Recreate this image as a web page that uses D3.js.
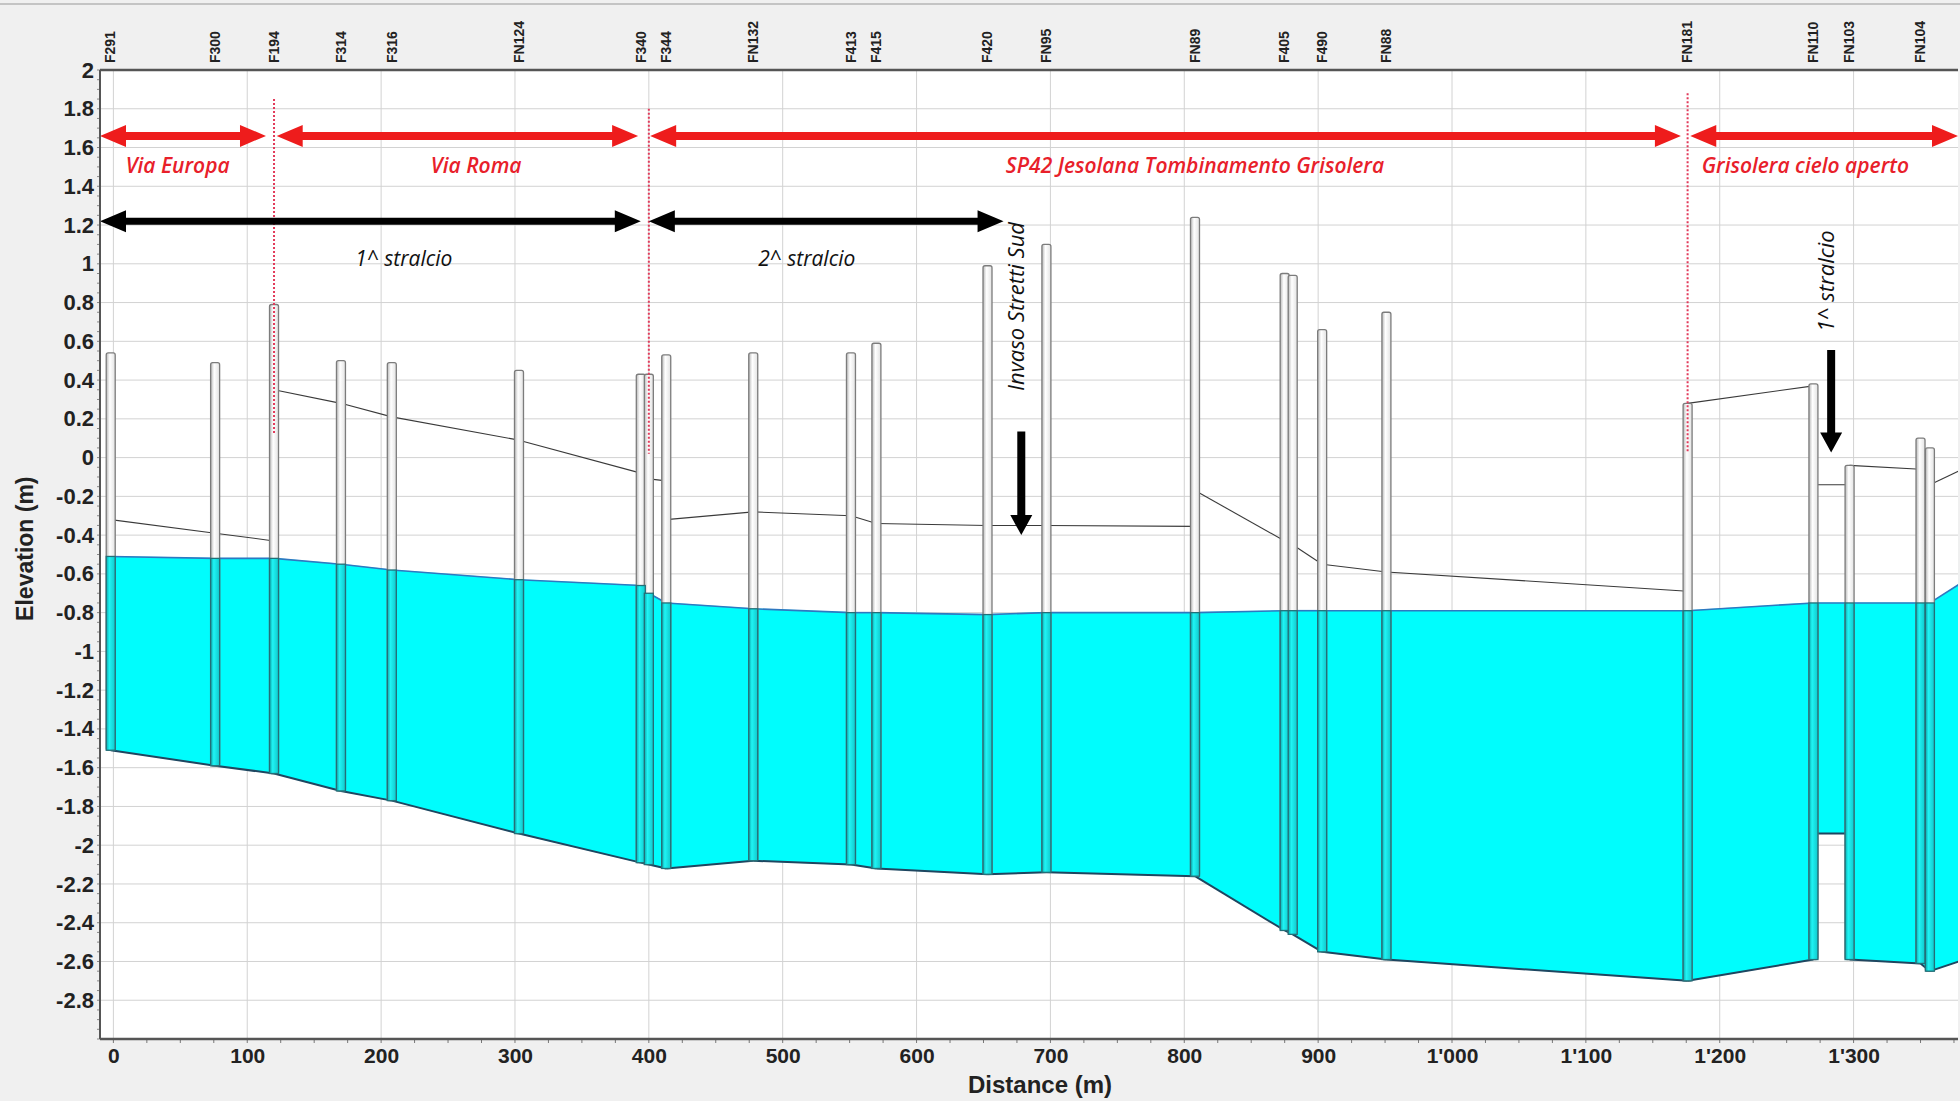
<!DOCTYPE html>
<html>
<head>
<meta charset="utf-8">
<script src="https://cdn.jsdelivr.net/npm/d3@7/dist/d3.min.js"></script>
<style>
  html, body { margin: 0; padding: 0; background: #f0f0f0; }
  svg { display: block; }
</style>
</head>
<body>
<svg id="chart" width="1960" height="1101"></svg>
<script>
// ---- Profile data: manholes along the sewer (distance in m, elevations in m) ----
const nodeNames  = ["F291","F300","F194","F314","F316","FN124","F340","","F344","FN132","F413","F415","F420","FN95","FN89","F405","","F490","FN88","FN181","FN110","FN103","FN104","",""];
const nodeDist   = [-2, 76, 120, 170, 208, 303, 394, 400, 413, 478, 551, 570, 653, 697, 808, 875, 881, 903, 951, 1176, 1270, 1297, 1350, 1357, 1400];
const nodeRim    = [0.54, 0.49, 0.79, 0.50, 0.49, 0.45, 0.43, 0.43, 0.53, 0.54, 0.54, 0.59, 0.99, 1.10, 1.24, 0.95, 0.94, 0.66, 0.75, 0.28, 0.38, -0.04, 0.10, 0.05, 0.20];
const nodeInvert = [-1.51, -1.59, -1.63, -1.72, -1.77, -1.94, -2.09, -2.10, -2.12, -2.08, -2.10, -2.12, -2.15, -2.14, -2.16, -2.44, -2.46, -2.55, -2.59, -2.70, -2.59, -2.59, -2.61, -2.65, -2.55];
const waterLevel = [-0.51, -0.52, -0.52, -0.55, -0.58, -0.63, -0.66, -0.70, -0.75, -0.78, -0.80, -0.80, -0.81, -0.80, -0.80, -0.79, -0.79, -0.79, -0.79, -0.79, -0.75, -0.75, -0.75, -0.75, -0.56];

// ---- Conduits between consecutive manholes (upstream / downstream end) ----
const linkCrownUp  = [-0.32, -0.39, 0.35, 0.28, 0.21, 0.09, -0.08, -0.11, -0.32, -0.28, -0.30, -0.34, -0.35, -0.35, -0.17, -0.43, -0.45, -0.55, -0.59, 0.28, -0.14, -0.04, -0.06, -0.14];
const linkCrownDn  = [-0.39, -0.43, 0.28, 0.21, 0.09, -0.08, -0.11, -0.12, -0.28, -0.30, -0.34, -0.35, -0.35, -0.355, -0.43, -0.45, -0.55, -0.59, -0.69, 0.37, -0.14, -0.06, -0.07, 0.00];
const linkInvertUp = [-1.51, -1.59, -1.63, -1.72, -1.77, -1.94, -2.09, -2.10, -2.12, -2.08, -2.10, -2.12, -2.15, -2.14, -2.16, -2.44, -2.46, -2.55, -2.59, -2.70, -1.94, -2.59, -2.61, -2.65];
const linkInvertDn = [-1.59, -1.63, -1.72, -1.77, -1.94, -2.09, -2.10, -2.12, -2.08, -2.10, -2.12, -2.15, -2.14, -2.16, -2.44, -2.46, -2.55, -2.59, -2.70, -2.59, -1.94, -2.61, -2.65, -2.55];

// ---- Street sections (red) and work phases (black) ----
const sectionNames = ["Via Europa", "Via Roma", "SP42 Jesolana Tombinamento Grisolera", "Grisolera cielo aperto"];
const sectionStart = [-10, 122, 401, 1178];
const sectionEnd   = [114, 392, 1171, 1378];
const sectionLabelAt = [48, 271, 808, 1264];
const sectionBounds = [120, 400, 1176];
const sectionBoundTop = [1.85, 1.80, 1.88];
const sectionBoundBottom = [0.12, 0.02, 0.03];

const phaseNames = ["1^ stralcio", "2^ stralcio"];
const phaseStart = [-10, 400];
const phaseEnd   = [394, 665];
const phaseLabelAt = [217, 518];

// Vertical notes with downward arrows
const noteTexts    = ["Invaso Stretti Sud", "1^ stralcio"];
const noteDist     = [676, 1281];
const noteCenter   = [0.78, 0.91];
const noteArrowTop = [0.135, 0.555];
const noteArrowTip = [-0.40, 0.026];

// ---- Axis ticks ----
const xTicks = [0, 100, 200, 300, 400, 500, 600, 700, 800, 900, 1000, 1100, 1200, 1300];
const xTickLabels = ["0","100","200","300","400","500","600","700","800","900","1'000","1'100","1'200","1'300"];
const yTicks = [2, 1.8, 1.6, 1.4, 1.2, 1, 0.8, 0.6, 0.4, 0.2, 0, -0.2, -0.4, -0.6, -0.8, -1, -1.2, -1.4, -1.6, -1.8, -2, -2.2, -2.4, -2.6, -2.8];
const yTickLabels = ["2","1.8","1.6","1.4","1.2","1","0.8","0.6","0.4","0.2","0","-0.2","-0.4","-0.6","-0.8","-1","-1.2","-1.4","-1.6","-1.8","-2","-2.2","-2.4","-2.6","-2.8"];

// ---- Layout ----
const svg = d3.select("#chart");
const plot = { left: 100, right: 1958, top: 70, bottom: 1039 };
const x = d3.scaleLinear().domain([-10, 1378]).range([plot.left, plot.right]);
const y = d3.scaleLinear().domain([-3, 2]).range([plot.bottom, plot.top]);

const defs = svg.append("defs");
defs.append("clipPath").attr("id", "plotClip")
  .append("rect").attr("x", plot.left).attr("y", plot.top)
  .attr("width", plot.right - plot.left).attr("height", plot.bottom - plot.top);
const grad = defs.append("linearGradient").attr("id", "shaft").attr("x1", 0).attr("x2", 1).attr("y1", 0).attr("y2", 0);
grad.append("stop").attr("offset", "0%").attr("stop-color", "#b8b8b8");
grad.append("stop").attr("offset", "40%").attr("stop-color", "#ffffff");
grad.append("stop").attr("offset", "100%").attr("stop-color", "#e2e2e2");
const gradW = defs.append("linearGradient").attr("id", "shaftWet").attr("x1", 0).attr("x2", 1).attr("y1", 0).attr("y2", 0);
gradW.append("stop").attr("offset", "0%").attr("stop-color", "#0aa9ad");
gradW.append("stop").attr("offset", "35%").attr("stop-color", "#1ff4f4");
gradW.append("stop").attr("offset", "100%").attr("stop-color", "#10c8cc");

// thin ruler strip along the top edge
svg.append("line").attr("x1", 0).attr("x2", 1960).attr("y1", 4).attr("y2", 4)
  .attr("stroke", "#c4c4c4").attr("stroke-width", 2);

// plot background
svg.append("rect").attr("x", plot.left).attr("y", plot.top)
  .attr("width", plot.right - plot.left).attr("height", plot.bottom - plot.top)
  .attr("fill", "#ffffff");

// gridlines
const grid = svg.append("g").attr("clip-path", "url(#plotClip)");
grid.selectAll("line.h").data(yTicks).join("line")
  .attr("x1", plot.left).attr("x2", plot.right)
  .attr("y1", d => y(d)).attr("y2", d => y(d))
  .attr("stroke", "#d2d2d2").attr("stroke-width", 1);
grid.selectAll("line.v").data(xTicks).join("line")
  .attr("y1", plot.top).attr("y2", plot.bottom)
  .attr("x1", d => x(d)).attr("x2", d => x(d))
  .attr("stroke", "#d2d2d2").attr("stroke-width", 1);

// conduits
const links = d3.range(nodeDist.length - 1).map(i => ({
  x0: nodeDist[i], x1: nodeDist[i + 1],
  w0: waterLevel[i], w1: waterLevel[i + 1],
  c0: linkCrownUp[i], c1: linkCrownDn[i],
  i0: linkInvertUp[i], i1: linkInvertDn[i]
}));

const prof = svg.append("g").attr("clip-path", "url(#plotClip)");
prof.selectAll("path.water").data(links).join("path")
  .attr("d", l => `M${x(l.x0)},${y(l.w0)}L${x(l.x1)},${y(l.w1)}L${x(l.x1)},${y(l.i1)}L${x(l.x0)},${y(l.i0)}Z`)
  .attr("fill", "#00fdfd").attr("stroke", "#00fdfd").attr("stroke-width", 0.6);
prof.selectAll("line.surface").data(links).join("line")
  .attr("x1", l => x(l.x0)).attr("x2", l => x(l.x1))
  .attr("y1", l => y(l.w0)).attr("y2", l => y(l.w1))
  .attr("stroke", "#2f78c0").attr("stroke-width", 1.6);
prof.selectAll("line.invert").data(links).join("line")
  .attr("x1", l => x(l.x0)).attr("x2", l => x(l.x1))
  .attr("y1", l => y(l.i0)).attr("y2", l => y(l.i1))
  .attr("stroke", "#1f4660").attr("stroke-width", 2);
prof.selectAll("line.crown").data(links).join("line")
  .attr("x1", l => x(l.x0)).attr("x2", l => x(l.x1))
  .attr("y1", l => y(l.c0)).attr("y2", l => y(l.c1))
  .attr("stroke", "#3a3a3a").attr("stroke-width", 1.1);

// manholes
const nodes = nodeDist.map((d, i) => ({ name: nodeNames[i], dist: d, rim: nodeRim[i], inv: nodeInvert[i], wl: waterLevel[i] }));
const nw = 9;
prof.selectAll("rect.shaft").data(nodes).join("rect")
  .attr("x", n => x(n.dist) - nw / 2).attr("width", nw)
  .attr("y", n => y(n.rim)).attr("height", n => y(n.inv) - y(n.rim))
  .attr("rx", 2)
  .attr("fill", "url(#shaft)").attr("stroke", "#7c7c7c").attr("stroke-width", 1.3);
prof.selectAll("rect.wet").data(nodes).join("rect")
  .attr("x", n => x(n.dist) - nw / 2).attr("width", nw)
  .attr("y", n => y(n.wl)).attr("height", n => y(n.inv) - y(n.wl))
  .attr("fill", "url(#shaftWet)").attr("stroke", "#236f78").attr("stroke-width", 1.3);

// section boundaries (red dotted)
const ann = svg.append("g").attr("clip-path", "url(#plotClip)");
ann.selectAll("line.bound").data(sectionBounds).join("line")
  .attr("x1", d => x(d)).attr("x2", d => x(d))
  .attr("y1", (d, i) => y(sectionBoundTop[i])).attr("y2", (d, i) => y(sectionBoundBottom[i]))
  .attr("stroke", "#e23a5a").attr("stroke-width", 2).attr("stroke-dasharray", "2,2");

function hArrow(x1, x2, yy, t, L, hw) {
  return `M${x1},${yy}L${x1 + L},${yy - hw}L${x1 + L},${yy - t / 2}L${x2 - L},${yy - t / 2}L${x2 - L},${yy - hw}` +
         `L${x2},${yy}L${x2 - L},${yy + hw}L${x2 - L},${yy + t / 2}L${x1 + L},${yy + t / 2}L${x1 + L},${yy + hw}Z`;
}
function vArrow(xx, y1, y2, t, L, hw) {
  return `M${xx - t / 2},${y1}L${xx + t / 2},${y1}L${xx + t / 2},${y2 - L}L${xx + hw},${y2 - L}L${xx},${y2}` +
         `L${xx - hw},${y2 - L}L${xx - t / 2},${y2 - L}Z`;
}

const noteFont = "'Open Sans', Lato, sans-serif";

// street sections
ann.selectAll("path.sect").data(sectionNames).join("path")
  .attr("d", (d, i) => hArrow(x(sectionStart[i]), x(sectionEnd[i]), y(1.66), 8, 26, 11))
  .attr("fill", "#ee1c1c");
ann.selectAll("text.sect").data(sectionNames).join("text")
  .attr("x", (d, i) => x(sectionLabelAt[i])).attr("y", y(1.50))
  .attr("text-anchor", "middle").attr("dominant-baseline", "middle")
  .attr("font-family", noteFont).attr("font-style", "italic").attr("font-weight", 600)
  .attr("font-size", 21).attr("fill", "#e8202a")
  .text(d => d);

// work phases
ann.selectAll("path.phase").data(phaseNames).join("path")
  .attr("d", (d, i) => hArrow(x(phaseStart[i]), x(phaseEnd[i]), y(1.22), 7, 26, 11))
  .attr("fill", "#000");
ann.selectAll("text.phase").data(phaseNames).join("text")
  .attr("x", (d, i) => x(phaseLabelAt[i])).attr("y", y(1.02))
  .attr("text-anchor", "middle").attr("dominant-baseline", "middle")
  .attr("font-family", noteFont).attr("font-style", "italic")
  .attr("font-size", 21).attr("fill", "#111")
  .text(d => d);

// vertical notes
ann.selectAll("text.note").data(noteTexts).join("text")
  .attr("transform", (d, i) => `translate(${x(noteDist[i])},${y(noteCenter[i])}) rotate(-90)`)
  .attr("text-anchor", "middle").attr("dominant-baseline", "middle")
  .attr("font-family", noteFont).attr("font-style", "italic")
  .attr("font-size", 22).attr("fill", "#111")
  .text(d => d);
ann.selectAll("path.note").data(noteTexts).join("path")
  .attr("d", (d, i) => vArrow(x(noteDist[i]) + 3, y(noteArrowTop[i]), y(noteArrowTip[i]), 8, 20, 11))
  .attr("fill", "#000");

// axes
const font = "'Liberation Sans', Arial, sans-serif";
const yAxis = svg.append("g").attr("transform", `translate(${plot.left},0)`)
  .call(d3.axisLeft(y).tickValues(yTicks).tickSize(0).tickPadding(6).tickFormat((d, i) => yTickLabels[i]));
yAxis.select(".domain").remove();
yAxis.selectAll("text").attr("font-family", font).attr("font-weight", "bold").attr("font-size", 22).attr("fill", "#222");

const xAxis = svg.append("g").attr("transform", `translate(0,${plot.bottom})`)
  .call(d3.axisBottom(x).tickValues(xTicks).tickSize(0).tickPadding(9).tickFormat((d, i) => xTickLabels[i]));
xAxis.select(".domain").remove();
xAxis.selectAll("text").attr("font-family", font).attr("font-weight", "bold").attr("font-size", 21).attr("fill", "#222");

// minor ticks
const minorX = d3.range(0, 1376, 25);
svg.append("g").selectAll("line").data(minorX).join("line")
  .attr("x1", d => x(d)).attr("x2", d => x(d))
  .attr("y1", plot.bottom).attr("y2", plot.bottom + 4)
  .attr("stroke", "#777").attr("stroke-width", 1);
const minorY = d3.range(-3, 2.001, 0.05);
svg.append("g").selectAll("line").data(minorY).join("line")
  .attr("x1", plot.left - 3).attr("x2", plot.left)
  .attr("y1", d => y(d)).attr("y2", d => y(d))
  .attr("stroke", "#888").attr("stroke-width", 1);

// frame
svg.append("line").attr("x1", plot.left).attr("x2", plot.right).attr("y1", plot.top).attr("y2", plot.top)
  .attr("stroke", "#555").attr("stroke-width", 2.5);
svg.append("line").attr("x1", plot.left).attr("x2", plot.right).attr("y1", plot.bottom).attr("y2", plot.bottom)
  .attr("stroke", "#555").attr("stroke-width", 2.5);
svg.append("line").attr("x1", plot.left).attr("x2", plot.left).attr("y1", plot.top).attr("y2", plot.bottom)
  .attr("stroke", "#555").attr("stroke-width", 2);

// manhole names above the plot
svg.append("g").selectAll("text").data(nodes.filter(n => n.name !== "")).join("text")
  .attr("transform", n => `translate(${x(n.dist) + 1},${plot.top - 7}) rotate(-90)`)
  .attr("text-anchor", "start").attr("dominant-baseline", "middle")
  .attr("font-family", font).attr("font-weight", "bold").attr("font-size", 14).attr("fill", "#222")
  .text(n => n.name);

// axis titles
svg.append("text").attr("transform", `translate(27,${y(-0.47)}) rotate(-90)`)
  .attr("text-anchor", "middle").attr("dominant-baseline", "middle")
  .attr("font-family", font).attr("font-weight", "bold").attr("font-size", 23).attr("fill", "#222")
  .text("Elevation (m)");
svg.append("text").attr("x", 1040).attr("y", 1087)
  .attr("text-anchor", "middle").attr("dominant-baseline", "middle")
  .attr("font-family", font).attr("font-weight", "bold").attr("font-size", 24).attr("fill", "#222")
  .text("Distance (m)");
</script>
</body>
</html>
